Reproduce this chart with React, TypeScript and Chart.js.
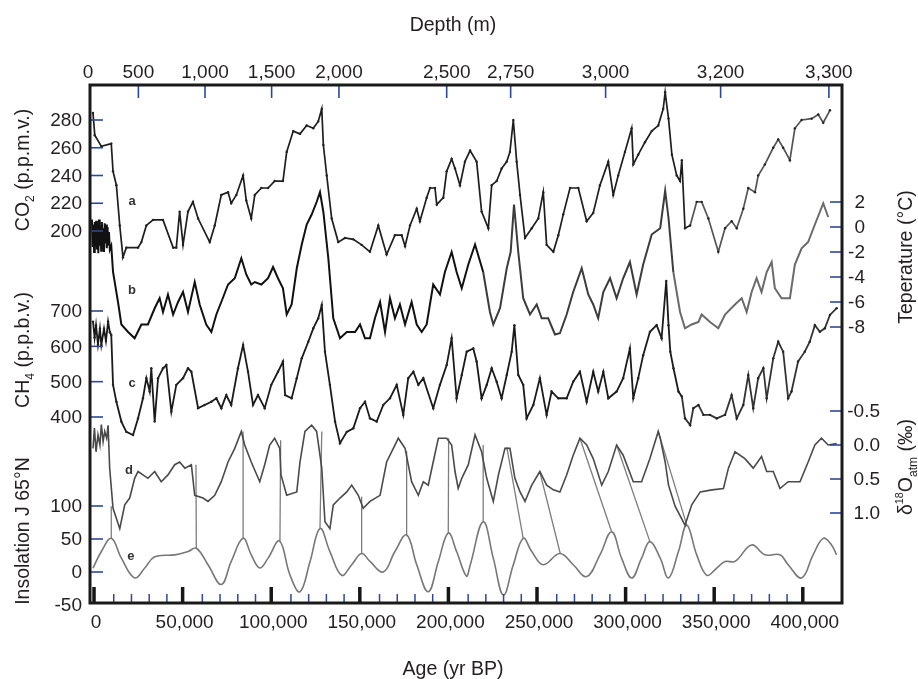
import React, { useEffect, useRef } from "react";
import { Chart, registerables } from "chart.js";

Chart.register(...registerables);

type P = [number, number];

// ---------------- data (age in kyr BP, value) ----------------
const co2Series: P[] = [
  [-1.7, 285], [-0.7, 269], [3.0, 261], [8.6, 263], [9.6, 243], [11.5, 233], [13.4, 204], [15.2, 181], [17.1, 188],
  [23.7, 188], [25.6, 192], [28.4, 204], [32.2, 208], [37.8, 208], [43.5, 188], [45.3, 188], [47.2, 214], [49.1, 190],
  [51.9, 214], [54.7, 221], [57.6, 209], [64.2, 192], [67.0, 204], [70.7, 226], [74.5, 228], [76.3, 220], [79.2, 226],
  [83.0, 240], [84.8, 222], [87.6, 209], [89.6, 226], [93.3, 231], [97.1, 231], [100.8, 236], [105.5, 236], [107.6, 257],
  [111.3, 272], [115.1, 270], [118.9, 276], [122.6, 274], [125.4, 279], [127.4, 288], [128.3, 262], [130.2, 240],
  [133.0, 209], [136.7, 192], [140.5, 195], [145.2, 194], [149.9, 190], [154.6, 185], [159.3, 204], [164.0, 183],
  [168.7, 197], [172.5, 197], [174.4, 189], [177.2, 204], [181.0, 216], [182.8, 207], [186.6, 224], [188.5, 231],
  [191.3, 231], [192.3, 219], [196.0, 224], [197.9, 243], [200.7, 252], [202.6, 245], [205.4, 233], [208.2, 250],
  [211.1, 258], [214.8, 250], [217.6, 214], [221.4, 202], [223.3, 233], [226.1, 236], [228.9, 245], [231.8, 250],
  [233.6, 257], [235.5, 280], [237.4, 250], [239.3, 226], [242.1, 195], [245.9, 202], [249.6, 209], [252.4, 228],
  [254.3, 190], [258.1, 185], [260.9, 197], [263.7, 212], [267.5, 231], [272.2, 231], [276.9, 207], [280.6, 213],
  [284.4, 233], [289.1, 250], [291.9, 226], [294.7, 240], [298.5, 257], [302.3, 274], [303.2, 248], [306.0, 255],
  [309.8, 264], [313.6, 272], [317.3, 276], [320.1, 288], [321.2, 300], [323.1, 281], [325.0, 255], [327.7, 240],
  [329.6, 236], [330.6, 251], [332.4, 202], [335.3, 204], [339.0, 221], [341.8, 221], [345.6, 209], [351.2, 185],
  [355.0, 202], [358.7, 207], [361.6, 202], [365.3, 216], [368.1, 231], [371.9, 228], [373.7, 240], [377.5, 248],
  [382.2, 260], [385.0, 266], [387.8, 260], [391.6, 251], [394.4, 274], [398.2, 280], [403.9, 281], [407.6, 284],
  [410.4, 278], [414.2, 287],
];

const tempSeries: P[] = [
  [-2.3, 0.6], [-1.9, -1.6], [-1.5, 0.2], [-1.1, -2.0], [-0.7, 0.4], [-0.3, -1.4], [0.1, 0.5], [0.5, -1.8],
  [0.9, -0.1], [1.3, -2.1], [1.7, 0.6], [2.1, -1.5], [2.5, 0.1], [2.9, -1.9], [3.3, 0.4], [3.7, -1.2], [4.1, -0.1],
  [4.5, -2.0], [4.9, 0.3], [5.3, -1.3], [5.7, 0.2], [6.1, -1.7], [6.5, 0.0], [6.9, -1.4], [7.3, -0.4], [7.8, -1.8],
  [8.6, -1.5], [9.6, -3.6], [12.4, -6.0],
  [14.3, -7.8], [18.1, -8.4], [21.8, -8.9], [25.6, -7.8], [29.3, -7.8], [33.1, -6.5], [35.9, -5.7], [37.8, -6.8],
  [40.6, -5.4], [43.5, -7.0], [46.3, -6.0], [49.1, -5.2], [51.9, -6.8], [55.7, -4.4], [58.5, -6.2], [62.2, -7.8],
  [65.1, -8.4], [67.9, -7.0], [70.7, -6.0], [74.5, -4.6], [78.3, -4.1], [82.0, -2.5], [84.8, -3.8], [87.6, -4.6],
  [89.6, -4.4], [93.3, -4.6], [97.1, -4.1], [99.9, -3.2], [102.7, -4.1], [105.5, -4.9], [107.6, -7.0], [110.4, -6.2],
  [113.3, -3.3], [116.1, -1.4], [118.9, 0.2], [121.7, 1.0], [124.5, 2.0], [126.4, 2.8], [128.3, 1.2], [131.1, -2.5],
  [133.9, -7.3], [137.7, -8.9], [141.5, -8.4], [146.2, -8.4], [149.0, -7.8], [151.8, -8.9], [154.6, -8.9],
  [157.4, -7.3], [160.3, -6.0], [163.1, -8.4], [165.9, -5.7], [168.7, -7.3], [171.5, -6.2], [174.4, -7.8],
  [178.1, -6.0], [181.0, -7.8], [183.8, -8.4], [186.6, -7.8], [190.3, -4.6], [194.1, -5.4], [196.9, -3.6],
  [200.7, -2.0], [203.5, -3.6], [206.4, -4.9], [210.1, -3.0], [213.9, -1.4], [218.5, -3.6], [222.3, -6.8],
  [224.2, -7.8], [228.0, -6.5], [231.8, -3.3], [234.0, -2.0], [235.9, 1.8], [238.3, -2.0], [241.1, -5.7],
  [244.9, -7.0], [248.7, -6.2], [251.5, -7.3], [255.2, -7.3], [259.0, -8.6], [261.8, -8.5], [265.6, -7.0],
  [269.3, -5.2], [274.1, -3.3], [277.8, -5.4], [280.6, -6.2], [283.4, -7.3], [286.3, -5.2], [290.1, -4.1],
  [293.8, -5.7], [297.5, -4.1], [301.3, -2.8], [305.1, -5.4], [308.8, -3.0], [313.6, -0.6], [318.4, -0.1],
  [321.2, 2.9], [323.1, 0.7], [325.8, -3.6], [329.6, -6.8], [332.4, -8.1], [336.2, -7.8], [340.0, -7.6],
  [341.8, -7.0], [346.5, -7.6], [351.2, -8.1], [355.0, -7.0], [360.6, -6.2], [364.4, -5.7], [367.2, -6.8],
  [370.0, -5.2], [372.8, -4.1], [375.6, -5.2], [378.5, -3.6], [381.3, -2.8], [383.1, -4.9], [386.9, -5.7],
  [391.6, -5.7], [394.4, -3.0], [398.2, -1.7], [401.9, -1.2], [405.7, 0.2], [408.5, 1.2], [410.4, 1.9], [413.2, 0.8],
];

const ch4Series: P[] = [
  [-1.7, 670], [-0.8, 625], [0.0, 660], [1.1, 605], [2.2, 650], [3.0, 604], [4.5, 650], [5.6, 615], [6.8, 670],
  [7.8, 640], [8.6, 632], [9.6, 491], [11.5, 443], [14.3, 387], [17.1, 358], [20.9, 349], [23.7, 396], [26.5, 453],
  [28.4, 510], [30.3, 472], [31.2, 538], [33.1, 387], [35.0, 510], [37.8, 538], [39.7, 547], [42.5, 415], [45.3, 491],
  [49.1, 510], [51.9, 538], [53.8, 528], [57.6, 425], [61.3, 434], [65.1, 443], [67.9, 453], [70.7, 425], [73.5, 462],
  [76.3, 434], [80.1, 538], [83.0, 604], [85.8, 528], [88.6, 434], [91.4, 462], [95.2, 425], [98.9, 491], [102.7, 528],
  [105.5, 557], [106.7, 462], [110.4, 453], [113.3, 510], [116.1, 566], [119.8, 613], [122.6, 651], [125.4, 679],
  [127.4, 717], [129.2, 585], [132.0, 491], [134.9, 387], [137.7, 326], [141.5, 358], [145.2, 368], [149.0, 425],
  [151.8, 443], [154.6, 396], [158.4, 387], [162.1, 434], [165.9, 453], [169.7, 491], [173.4, 406], [176.2, 510],
  [179.1, 528], [181.9, 491], [184.7, 510], [190.3, 425], [194.1, 491], [197.9, 547], [200.7, 623], [203.5, 453],
  [206.4, 519], [209.2, 585], [212.9, 594], [214.8, 557], [217.6, 453], [220.5, 491], [223.3, 538], [226.1, 500],
  [228.9, 453], [231.8, 519], [234.6, 585], [236.1, 660], [238.3, 519], [241.1, 491], [243.0, 396], [246.8, 434],
  [250.5, 510], [254.3, 406], [257.1, 472], [260.9, 453], [265.6, 453], [269.3, 500], [273.1, 528], [276.9, 443],
  [280.6, 528], [283.4, 472], [286.3, 528], [289.1, 453], [293.8, 472], [297.5, 510], [301.3, 594], [303.2, 453],
  [306.0, 510], [308.8, 575], [312.6, 641], [316.4, 660], [319.2, 623], [321.8, 785], [323.1, 660], [324.1, 585],
  [325.9, 538], [328.7, 472], [330.6, 458], [332.4, 396], [335.3, 377], [337.1, 425], [340.0, 434], [342.8, 406],
  [346.5, 406], [350.3, 396], [355.0, 406], [358.7, 462], [361.6, 396], [365.3, 434], [368.1, 519], [370.9, 425],
  [373.7, 510], [376.6, 538], [378.5, 453], [382.2, 566], [385.0, 613], [387.8, 585], [390.6, 453], [392.5, 472],
  [396.2, 557], [400.0, 585], [402.8, 613], [405.7, 660], [408.5, 641], [411.3, 651], [414.2, 689], [418.0, 708],
];

const d18oSeries: P[] = [
  [-1.7, 0.05], [-0.9, -0.25], [0.0, 0.1], [1.1, -0.15], [2.2, 0.0], [3.0, -0.3], [4.0, -0.05], [4.9, -0.2],
  [6.0, -0.1], [6.8, -0.29], [7.7, 0.34], [9.6, 0.93], [11.5, 1.08], [13.4, 1.23], [16.2, 0.88], [19.0, 0.78],
  [21.8, 0.49], [23.7, 0.39], [26.5, 0.44], [29.3, 0.49], [33.1, 0.39], [36.8, 0.54], [40.6, 0.44], [44.4, 0.29],
  [47.2, 0.25], [50.1, 0.34], [53.8, 0.29], [55.7, 0.74], [60.4, 0.78], [63.2, 0.83], [67.0, 0.74], [70.7, 0.54],
  [74.5, 0.25], [78.3, 0.05], [82.0, -0.2], [83.9, 0.0], [87.6, 0.25], [92.4, 0.54], [95.2, 0.29], [98.0, 0.0],
  [100.8, -0.1], [103.7, 0.05], [104.4, 0.44], [107.6, 0.74], [113.3, 0.69], [115.1, 0.25], [117.9, -0.2],
  [121.7, -0.29], [124.5, -0.2], [127.4, 0.34], [129.2, 1.13], [132.0, 1.23], [133.9, 0.88], [137.7, 0.78],
  [141.5, 0.69], [144.3, 0.59], [148.0, 0.74], [150.8, 0.93], [154.6, 0.83], [160.3, 0.74], [164.0, 0.25],
  [167.8, 0.05], [170.6, -0.1], [174.4, 0.05], [178.1, 0.54], [181.9, 0.74], [184.7, 0.54], [187.5, 0.59],
  [190.3, 0.25], [193.2, -0.1], [197.9, -0.1], [200.7, 0.0], [202.6, 0.39], [204.4, 0.64], [206.4, 0.49],
  [210.1, 0.29], [213.9, -0.15], [217.6, 0.1], [220.5, 0.49], [224.2, 0.83], [227.1, 0.44], [230.8, 0.05],
  [233.6, 0.05], [236.4, 0.49], [239.3, 0.69], [242.1, 0.83], [245.9, 0.59], [250.5, 0.39], [254.3, 0.59],
  [258.1, 0.66], [261.8, 0.69], [265.6, 0.44], [269.3, 0.15], [273.1, -0.1], [276.9, 0.0], [280.6, 0.2],
  [285.4, 0.59], [289.1, 0.39], [293.8, 0.0], [297.5, 0.15], [303.2, 0.54], [307.9, 0.54], [312.6, 0.2],
  [317.3, -0.2], [318.4, -0.1], [321.2, 0.25], [323.1, 0.59], [326.8, 0.9], [332.4, 1.18], [336.2, 0.88],
  [341.0, 0.69], [347.6, 0.66], [354.1, 0.64], [356.9, 0.34], [360.6, 0.1], [366.2, 0.2], [370.9, 0.34],
  [375.6, 0.17], [378.5, 0.39], [382.2, 0.39], [386.0, 0.64], [390.6, 0.54], [397.3, 0.54], [401.9, 0.25],
  [405.7, 0.0], [409.4, -0.1], [413.2, 0.0], [418.0, -0.02],
];

const insolSeries: P[] = [
  [-1.7, 6], [3.0, 31], [8.6, 51], [14.3, 21], [21.8, -9], [27.5, 6], [33.1, 23], [44.4, 26], [51.9, 31], [56.6, 36],
  [63.2, 11], [70.7, -19], [76.3, 16], [83.0, 51], [87.6, 26], [92.4, 6], [97.1, 21], [103.5, 47], [109.5, -5],
  [115.1, -30], [120.8, 16], [126.4, 66], [132.0, 31], [138.6, -5], [144.3, 11], [149.9, 28], [154.6, 16], [162.1, 0],
  [168.7, 31], [175.3, 56], [181.0, 11], [187.5, -30], [193.2, 16], [198.8, 59], [203.5, 31], [209.0, -6], [211.1, 10],
  [218.5, 76], [224.2, 21], [229.9, -35], [235.5, 11], [241.1, 51], [245.9, 31], [252.4, 11], [261.8, 28], [269.3, 11],
  [276.9, -7], [284.4, 26], [291.0, 61], [296.6, 21], [302.3, -9], [307.9, 21], [312.6, 46], [318.4, 21], [323.1, -9],
  [328.7, 31], [333.4, 71], [339.0, 26], [344.7, -5], [350.3, 6], [355.0, 16], [360.6, 16], [370.0, 41], [377.5, 26],
  [386.0, 26], [390.6, 11], [398.2, -9], [404.7, 26], [410.4, 51], [415.1, 41], [417.9, 26],
];

// lines linking d18O (age, value) to insolation (age, value)
const links: [number, number, number, number][] = [
  [8.6, 0.9, 8.6, 51], [56.4, 0.29, 56.6, 36], [83.0, -0.2, 83.0, 51], [104.2, -0.07, 103.8, 47],
  [127.4, -0.2, 126.4, 66], [149.9, 0.76, 149.9, 28], [175.3, 0.09, 175.3, 56], [199.0, -0.1, 198.8, 59],
  [218.5, 0.0, 218.5, 76], [231.8, 0.03, 241.1, 51], [250.5, 0.4, 262.0, 28], [273.1, -0.1, 291.0, 61],
  [293.8, 0.0, 312.6, 46], [317.3, -0.2, 333.4, 71],
];

const co2Ticks = [280, 260, 240, 220, 200];
const ch4Ticks = [700, 600, 500, 400];
const insolTicks = [100, 50, 0, -50];
const tempTicks = [2, 0, -2, -4, -6, -8];
const d18oTicks = [-0.5, 0.0, 0.5, 1.0];
const ageMajorKa = [0, 50, 100, 150, 200, 250, 300, 350, 400];
const ageMinorKa = [10, 20, 30, 40, 60, 70, 80, 90, 110, 120, 130, 140, 160, 170, 180, 190, 210, 220, 230, 240,
  260, 270, 280, 290, 310, 320, 330, 340, 360, 370, 380, 390];
const depthLabels = ["0", "500", "1,000", "1,500", "2,000", "2,500", "2,750", "3,000", "3,200", "3,300"];
const depthAgeKa = [-4.5, 23.9, 61.5, 99.1, 137.1, 197.9, 234.0, 287.6, 352.5, 413.6];
const panelLetters = ["a", "b", "c", "d", "e"];
const letterAt: P[] = [[20.3, 221.6], [20.3, -5.1], [20.3, 496], [18.6, 0.37], [19.7, 24]];

// ---------------- layout ----------------
const W = 918, H = 679;
const AREA = { left: 90, right: 842, top: 85, bottom: 603 };
const FONT = '"Liberation Sans", Arial, Helvetica, sans-serif';
const BLUE = "#2d4799";
const INK = "#231f20";

// axis range from two calibration (value, pixel) pairs
function range(v1: number, p1: number, v2: number, p2: number) {
  const k = (v2 - v1) / (p2 - p1);
  const atTop = v1 + (AREA.top - p1) * k;
  const atBottom = v1 + (AREA.bottom - p1) * k;
  if (atTop > atBottom) return { min: atBottom, max: atTop, reverse: false };
  return { min: atTop, max: atBottom, reverse: true };
}

type Part = { t: string; s?: number; dy?: number };

function drawRich(ctx: CanvasRenderingContext2D, parts: Part[], cx: number, cy: number, size: number, rot: number) {
  ctx.save();
  ctx.translate(cx, cy);
  ctx.rotate(rot);
  ctx.textAlign = "left";
  ctx.textBaseline = "alphabetic";
  let w = 0;
  for (const p of parts) {
    ctx.font = `${size * (p.s ?? 1)}px ${FONT}`;
    w += ctx.measureText(p.t).width;
  }
  let x = -w / 2;
  const base = size * 0.36;
  for (const p of parts) {
    ctx.font = `${size * (p.s ?? 1)}px ${FONT}`;
    ctx.fillText(p.t, x, base + (p.dy ?? 0) * size);
    x += ctx.measureText(p.t).width;
  }
  ctx.restore();
}

const toXY = (s: P[]) => s.map(([a, v]) => ({ x: a * 1000, y: v }));

const decor = {
  id: "decor",
  beforeDatasetsDraw(chart: any) {
    const { ctx, scales } = chart;
    const x = scales.x;
    ctx.save();
    ctx.strokeStyle = "#7d7d7d";
    ctx.lineWidth = 1.3;
    for (const [ao, vo, ai, vi] of links) {
      ctx.beginPath();
      ctx.moveTo(x.getPixelForValue(ao * 1000), scales.yD18O.getPixelForValue(vo));
      ctx.lineTo(x.getPixelForValue(ai * 1000), scales.yIns.getPixelForValue(vi));
      ctx.stroke();
    }
    ctx.restore();
  },
  afterDraw(chart: any) {
    const { ctx, chartArea: a, scales } = chart;
    const x = scales.x;
    ctx.save();
    // panel letters
    ctx.fillStyle = "#333";
    ctx.font = `bold 13px ${FONT}`;
    ctx.textAlign = "center";
    ctx.textBaseline = "middle";
    const letterAxes = ["yCO2", "yTemp", "yCH4", "yD18O", "yIns"];
    panelLetters.forEach((l, i) => {
      ctx.fillText(l, x.getPixelForValue(letterAt[i][0] * 1000), scales[letterAxes[i]].getPixelForValue(letterAt[i][1]));
    });

    // inner ticks
    ctx.strokeStyle = BLUE;
    ctx.lineWidth = 1.6;
    const hTick = (y: number, x0: number, x1: number) => {
      ctx.beginPath(); ctx.moveTo(x0, y); ctx.lineTo(x1, y); ctx.stroke();
    };
    const left: [string, number[]][] = [["yCO2", co2Ticks], ["yCH4", ch4Ticks], ["yIns", insolTicks]];
    for (const [id, ticks] of left) for (const t of ticks) {
      const y = scales[id].getPixelForValue(t);
      if (y < a.bottom - 3) hTick(y, a.left, a.left + 13);
    }
    for (const t of tempTicks) hTick(scales.yTemp.getPixelForValue(t), a.right - 12, a.right);
    for (const t of d18oTicks) hTick(scales.yD18O.getPixelForValue(t), a.right - 12, a.right);
    depthAgeKa.forEach((ka, i) => {
      if (i === 0) return;
      const px = x.getPixelForValue(ka * 1000);
      ctx.beginPath(); ctx.moveTo(px, a.top); ctx.lineTo(px, a.top + 13); ctx.stroke();
    });
    ctx.lineWidth = 1.5;
    for (const ka of ageMinorKa) {
      const px = x.getPixelForValue(ka * 1000);
      ctx.beginPath(); ctx.moveTo(px, a.bottom); ctx.lineTo(px, a.bottom - 9); ctx.stroke();
    }
    ctx.strokeStyle = "#161616";
    ctx.lineWidth = 3.5;
    for (const ka of ageMajorKa) {
      const px = Math.max(x.getPixelForValue(ka * 1000) - 2, a.left + 2);
      ctx.beginPath(); ctx.moveTo(px, a.bottom); ctx.lineTo(px, a.bottom - 16); ctx.stroke();
    }

    // frame
    ctx.strokeStyle = "#1a1a1a";
    ctx.lineWidth = 3;
    ctx.strokeRect(a.left, a.top, a.right - a.left, a.bottom - a.top);

    // tick labels
    ctx.fillStyle = INK;
    ctx.font = `19px ${FONT}`;
    ctx.textBaseline = "middle";
    ctx.textAlign = "right";
    for (const [id, ticks] of left) for (const t of ticks) ctx.fillText(String(t), 82, scales[id].getPixelForValue(t) + 1);
    for (const t of tempTicks) ctx.fillText(String(t), 865, scales.yTemp.getPixelForValue(t) + 1);
    for (const t of d18oTicks) ctx.fillText(t.toFixed(1), 880, scales.yD18O.getPixelForValue(t) + 1);
    ctx.textAlign = "center";
    for (const ka of ageMajorKa) ctx.fillText((ka * 1000).toLocaleString("en-US"), x.getPixelForValue(ka * 1000), 623);
    depthAgeKa.forEach((ka, i) => ctx.fillText(depthLabels[i], x.getPixelForValue(ka * 1000), 73));

    // axis titles
    const TS = 19.5;
    drawRich(ctx, [{ t: "Depth (m)" }], 453, 23.5, TS, 0);
    drawRich(ctx, [{ t: "Age (yr BP)" }], 453, 668, TS, 0);
    const up = -Math.PI / 2;
    drawRich(ctx, [{ t: "CO" }, { t: "2", s: 0.62, dy: 0.28 }, { t: " (p.p.m.v.)" }], 22, 170, TS, up);
    drawRich(ctx, [{ t: "CH" }, { t: "4", s: 0.62, dy: 0.28 }, { t: " (p.p.b.v.)" }], 22, 350, TS, up);
    drawRich(ctx, [{ t: "Insolation J 65°N" }], 22, 531, TS, up);
    drawRich(ctx, [{ t: "Teperature (°C)" }], 905, 257, TS, up);
    drawRich(ctx, [{ t: "δ" }, { t: "18", s: 0.55, dy: -0.45 }, { t: "O" }, { t: "atm", s: 0.62, dy: 0.28 }, { t: " (‰)" }],
      905, 467, TS, up);
    ctx.restore();
  },
};

export default function App() {
  const ref = useRef<HTMLCanvasElement>(null);
  useEffect(() => {
    const canvas = ref.current!;
    const byAge = (cut: number, before: string, after: string) => (c: any) =>
      c.p0.parsed.x >= cut * 1000 ? after : before;
    const chart = new Chart(canvas, {
      type: "line",
      data: {
        datasets: [
          {
            data: toXY(co2Series), yAxisID: "yCO2", borderWidth: 1.7, borderColor: "#222",
            pointRadius: 1.2, pointBorderWidth: 0, pointBackgroundColor: "#222",
            segment: { borderColor: byAge(333, "#1e1e1e", "#555") },
          },
          {
            data: toXY(tempSeries), yAxisID: "yTemp", borderWidth: 2, borderColor: "#111",
            pointRadius: 0, segment: { borderColor: (c: any) => c.p0.parsed.x >= 325000 ? "#6a6a6a" : c.p0.parsed.x >= 215000 ? "#3c3c3c" : "#111" },
          },
          {
            data: toXY(ch4Series), yAxisID: "yCH4", borderWidth: 1.8, borderColor: "#1a1a1a",
            pointRadius: 1.2, pointBorderWidth: 0, pointBackgroundColor: "#222",
            segment: { borderColor: byAge(330, "#1a1a1a", "#333") },
          },
          { data: toXY(d18oSeries), yAxisID: "yD18O", borderWidth: 1.6, borderColor: "#4a4a4a", pointRadius: 0 },
          { data: toXY(insolSeries), yAxisID: "yIns", borderWidth: 1.6, borderColor: "#777", pointRadius: 0, tension: 0.4 },
        ],
      },
      options: {
        animation: false,
        responsive: false,
        events: [],
        layout: { padding: { left: AREA.left, right: W - AREA.right, top: AREA.top, bottom: H - AREA.bottom } },
        plugins: { legend: { display: false }, tooltip: { enabled: false } },
        elements: { line: { tension: 0, fill: false } },
        scales: {
          x: { type: "linear", min: -3400, max: 421000, display: false },
          yCO2: { type: "linear", display: false, ...range(280, 120, 200, 231) },
          yTemp: { type: "linear", display: false, ...range(2, 202, -8, 327) },
          yCH4: { type: "linear", display: false, ...range(700, 311, 400, 417) },
          yD18O: { type: "linear", display: false, ...range(-0.5, 411, 1.0, 513) },
          yIns: { type: "linear", display: false, ...range(100, 506, 0, 572) },
        },
      },
      plugins: [decor],
    } as any);
    return () => chart.destroy();
  }, []);
  return (
    <div style={{ position: "absolute", left: 0, top: 0, width: W, height: H, background: "#fff" }}>
      <canvas ref={ref} width={W} height={H} style={{ display: "block", width: W, height: H }} />
    </div>
  );
}
